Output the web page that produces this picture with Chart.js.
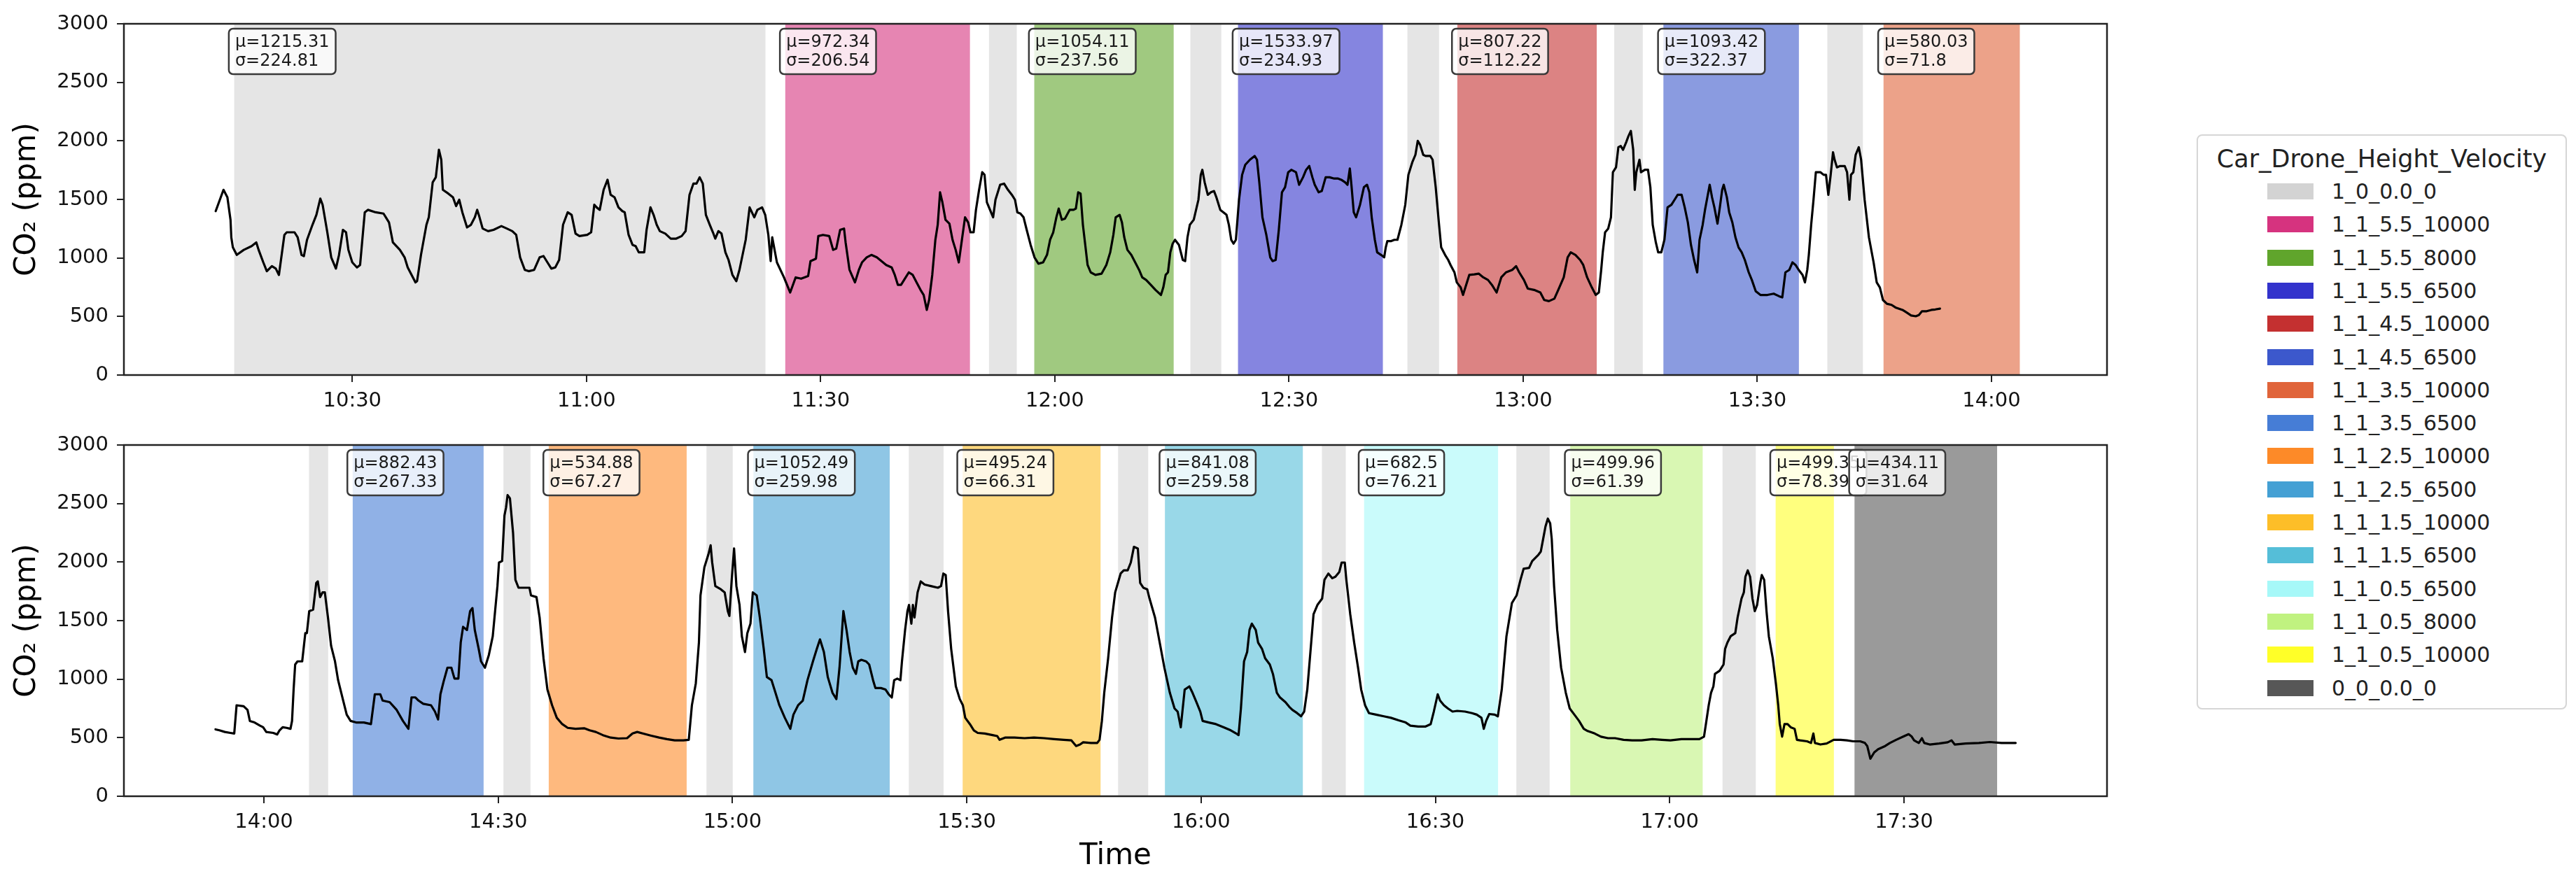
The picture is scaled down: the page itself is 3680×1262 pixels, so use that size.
<!DOCTYPE html>
<html>
<head>
<meta charset="utf-8">
<script src="https://cdn.jsdelivr.net/npm/chart.js@4.4.1/dist/chart.umd.min.js"></script>
<style>
  body { margin: 0; background: #fff; width: 3680px; height: 1262px; position: relative; overflow: hidden; font-family: 'DejaVu Sans', sans-serif; }
  canvas { position: absolute; left: 0; }
  #topPanel { top: 0; }
  #bottomPanel { top: 600px; }
  #legend { position: absolute; left: 3138px; top: 192px; width: 529px; height: 822px; box-sizing: border-box; border: 2px solid #d6d6d6; border-radius: 8px; color: #222; }
  #legend .ttl { position: absolute; left: 0; right: 0; top: 11px; height: 44px; line-height: 44px; text-align: center; font-size: 35px; }
  #legend .row { position: absolute; left: 0; height: 40px; line-height: 40px; font-size: 30px; }
  #legend .sw { position: absolute; left: 99px; top: 8px; width: 66px; height: 23px; }
  #legend .lb { position: absolute; left: 191px; top: 0; white-space: nowrap; }
</style>
</head>
<body>
<canvas id="topPanel" width="3100" height="600"></canvas>
<canvas id="bottomPanel" width="3100" height="662"></canvas>
<div id="legend"><div class="ttl">Car_Drone_Height_Velocity</div></div>
<script>
// legend entries (order as in the figure) and their colours
const conditions = ['1_0_0.0_0', '1_1_5.5_10000', '1_1_5.5_8000', '1_1_5.5_6500', '1_1_4.5_10000', '1_1_4.5_6500',
  '1_1_3.5_10000', '1_1_3.5_6500', '1_1_2.5_10000', '1_1_2.5_6500', '1_1_1.5_10000', '1_1_1.5_6500',
  '1_1_0.5_6500', '1_1_0.5_8000', '1_1_0.5_10000', '0_0_0.0_0'];
const conditionColors = ['#d3d3d3', '#d6337f', '#60a52c', '#3333cc', '#c43030', '#3c58cc',
  '#e0643a', '#467dd6', '#fd8a28', '#44a0d4', '#fdbe28', '#55bed8',
  '#a6f8f8', '#c0f280', '#ffff28', '#575757'];

const topTicks = ['10:30', '11:00', '11:30', '12:00', '12:30', '13:00', '13:30', '14:00'];
const bottomTicks = ['14:00', '14:30', '15:00', '15:30', '16:00', '16:30', '17:00', '17:30'];

// [start, end] in minutes of the day, condition, mean, std
const topSpans = [
  [614.9, 682.9, '1_0_0.0_0', 1215.31, 224.81],
  [685.5, 709.1, '1_1_5.5_10000', 972.34, 206.54],
  [711.6, 715.1, '1_0_0.0_0'],
  [717.4, 735.2, '1_1_5.5_8000', 1054.11, 237.56],
  [737.4, 741.3, '1_0_0.0_0'],
  [743.5, 762.0, '1_1_5.5_6500', 1533.97, 234.93],
  [765.2, 769.2, '1_0_0.0_0'],
  [771.6, 789.4, '1_1_4.5_10000', 807.22, 112.22],
  [791.7, 795.3, '1_0_0.0_0'],
  [798.0, 815.3, '1_1_4.5_6500', 1093.42, 322.37],
  [819.0, 823.5, '1_0_0.0_0'],
  [826.2, 843.6, '1_1_3.5_10000', 580.03, 71.8]
];
const bottomSpans = [
  [845.8, 848.2, '1_0_0.0_0'],
  [851.4, 868.1, '1_1_3.5_6500', 882.43, 267.33],
  [870.7, 874.1, '1_0_0.0_0'],
  [876.5, 894.1, '1_1_2.5_10000', 534.88, 67.27],
  [896.7, 900.0, '1_0_0.0_0'],
  [902.7, 920.1, '1_1_2.5_6500', 1052.49, 259.98],
  [922.6, 927.0, '1_0_0.0_0'],
  [929.5, 947.1, '1_1_1.5_10000', 495.24, 66.31],
  [949.4, 953.2, '1_0_0.0_0'],
  [955.4, 973.0, '1_1_1.5_6500', 841.08, 259.58],
  [975.5, 978.5, '1_0_0.0_0'],
  [980.9, 998.0, '1_1_0.5_6500', 682.5, 76.21],
  [1000.4, 1004.6, '1_0_0.0_0'],
  [1007.3, 1024.2, '1_1_0.5_8000', 499.96, 61.39],
  [1026.8, 1031.0, '1_0_0.0_0'],
  [1033.6, 1041.0, '1_1_0.5_10000', 499.35, 78.39],
  [1043.7, 1061.9, '0_0_0.0_0', 434.11, 31.64]
];

// CO2 readings: [minute of day, ppm]
const co2Morning = [
  [612.5,1400],[613.5,1582],[614.0,1518],[614.4,1325],[614.5,1176],[614.7,1090],[615.2,1026],[616.1,1069],[617.1,1101],
  [617.7,1133],[618.0,1069],[618.6,962],[619.05,887],[619.7,930],[620.2,909],[620.6,855],[621.3,1197],[621.6,1219],
  [622.6,1219],[623.0,1176],[623.5,1026],[623.8,1016],[624.2,1155],[624.9,1283],[625.4,1368],[625.9,1507],[626.2,1454],
  [626.8,1219],[627.3,1005],[627.9,909],[628.3,1026],[628.8,1240],[629.2,1219],[629.5,1069],[630.0,962],[630.6,919],
  [631.0,940],[631.6,1390],[632.0,1411],[633.0,1390],[634.0,1379],[634.3,1347],[634.7,1304],[635.2,1133],[636.1,1069],
  [636.7,1005],[637.1,919],[637.6,855],[638.1,791],[638.3,802],[638.8,1026],[639.5,1283],[639.8,1347],[640.3,1646],
  [640.7,1689],[641.1,1924],[641.4,1839],[641.6,1582],[642.3,1550],[642.9,1518],[643.3,1443],[643.7,1497],[644.1,1390],
  [644.7,1261],[645.2,1283],[645.7,1347],[646.0,1411],[646.3,1347],[646.7,1251],[647.4,1229],[648.1,1240],[649.1,1272],
  [649.8,1251],[650.5,1229],[651.0,1197],[651.5,1005],[652.1,898],[652.6,887],[653.3,898],[654.0,1005],[654.5,1016],
  [655.0,962],[655.5,909],[656.0,919],[656.5,983],[657.0,1283],[657.6,1390],[658.1,1368],[658.6,1208],[659.1,1187],
  [660.1,1197],[660.6,1219],[661.0,1454],[661.3,1432],[661.7,1411],[662.2,1582],[662.7,1668],[663.1,1539],[663.6,1518],
  [664.1,1432],[664.6,1400],[664.9,1390],[665.4,1197],[665.9,1112],[666.3,1101],[666.7,1048],[667.4,1048],[667.7,1240],
  [668.2,1432],[668.6,1368],[669.0,1283],[669.4,1229],[670.1,1208],[670.8,1165],[671.5,1165],[672.2,1187],[672.7,1229],
  [673.2,1539],[673.7,1635],[674.1,1635],[674.5,1689],[674.9,1635],[675.3,1368],[675.8,1283],[676.2,1219],[676.5,1165],
  [676.9,1229],[677.3,1208],[677.8,1048],[678.2,983],[678.7,855],[679.2,802],[679.6,898],[680.4,1155],[680.9,1432],
  [681.5,1347],[681.9,1411],[682.5,1432],[682.9,1368],[683.3,1197],[683.6,973],[683.8,1176],[684.4,962],[685.3,834],
  [686.1,705],[686.8,834],[687.5,823],[688.4,845],[688.7,973],[689.4,994],[689.7,1187],[690.3,1197],[691.1,1187],
  [691.6,1069],[692.0,1080],[692.5,1240],[693.0,1251],[693.2,1133],[693.7,898],[694.4,791],[694.9,898],[695.3,962],
  [695.9,1005],[696.5,1026],[697.2,1005],[697.8,973],[698.4,940],[699.1,919],[699.5,855],[699.9,770],[700.3,770],
  [700.9,834],[701.3,877],[701.8,855],[702.3,791],[702.8,727],[703.2,684],[703.6,556],[703.9,641],[704.3,855],
  [704.7,1155],[705.0,1283],[705.3,1561],[705.6,1475],[706.0,1326],[706.5,1293],[706.9,1155],[707.3,1069],[707.7,962],
  [708.1,1155],[708.5,1347],[708.9,1304],[709.2,1219],[709.6,1219],[709.9,1411],[710.3,1582],[710.7,1732],[711.0,1710],
  [711.3,1475],[711.7,1411],[712.1,1347],[712.4,1497],[713.0,1625],[713.5,1635],[714.0,1582],[714.5,1539],[714.9,1497],
  [715.2,1390],[715.6,1379],[716.0,1347],[716.4,1240],[716.9,1112],[717.4,1005],[717.9,951],[718.5,962],[719.0,1026],
  [719.4,1155],[719.8,1219],[720.2,1347],[720.5,1422],[720.9,1326],[721.3,1336],[721.9,1411],[722.4,1411],[722.7,1422],
  [723.0,1561],[723.3,1550],[723.6,1283],[723.9,1112],[724.2,940],[724.6,877],[725.2,855],[726.0,866],[726.6,940],
  [727.1,1048],[727.5,1197],[727.8,1347],[728.3,1368],[728.6,1304],[728.9,1176],[729.3,1069],[729.8,1026],[730.3,962],
  [730.8,898],[731.2,834],[731.7,812],[732.3,770],[732.9,727],[733.6,684],[733.9,748],[734.2,855],[734.5,877],
  [734.8,1048],[735.1,1122],[735.4,1155],[735.9,1112],[736.4,983],[736.7,973],[737.0,1176],[737.3,1283],[737.8,1326],
  [738.4,1497],[738.7,1710],[738.9,1753],[739.2,1646],[739.6,1539],[740.0,1561],[740.4,1571],[740.7,1518],[741.2,1411],
  [741.6,1390],[742.0,1368],[742.3,1283],[742.6,1155],[742.9,1122],[743.2,1155],[743.6,1497],[744.0,1710],[744.4,1796],
  [745.0,1839],[745.6,1871],[745.9,1839],[746.2,1646],[746.6,1347],[747.1,1197],[747.6,1005],[747.9,973],[748.3,983],
  [748.7,1240],[749.1,1561],[749.5,1604],[749.9,1732],[750.3,1753],[750.9,1732],[751.3,1625],[751.8,1689],[752.2,1753],
  [752.6,1785],[753.0,1689],[753.3,1625],[753.8,1561],[754.2,1571],[754.7,1689],[755.2,1689],[755.8,1678],[756.3,1678],
  [756.7,1668],[757.2,1646],[757.5,1625],[757.8,1764],[758.0,1625],[758.3,1390],[758.6,1347],[759.1,1454],[759.6,1604],
  [760.0,1625],[760.3,1561],[760.6,1347],[761.0,1155],[761.3,1048],[761.8,1026],[762.2,1005],[762.4,1090],[762.6,1144],
  [763.1,1144],[763.5,1155],[763.9,1155],[764.4,1283],[764.9,1454],[765.3,1710],[765.8,1817],[766.2,1881],[766.5,2000],
  [766.8,1967],[767.2,1881],[767.5,1871],[768.1,1871],[768.4,1839],[768.8,1604],[769.2,1304],[769.5,1090],[770.0,1026],
  [770.4,983],[770.7,940],[771.2,877],[771.5,791],[772.0,748],[772.3,684],[772.6,748],[773.1,855],[773.75,860],
  [774.3,866],[774.9,834],[775.5,812],[776.0,770],[776.6,705],[777.2,834],[777.8,877],[778.6,898],[779.1,930],
  [779.5,877],[780.1,812],[780.6,738],[781.4,727],[782.2,705],[782.7,641],[783.3,631],[784.0,652],[784.5,727],
  [785.2,834],[785.7,1005],[786.1,1048],[786.7,1026],[787.3,983],[787.7,940],[788.2,834],[788.8,748],[789.3,684],
  [789.7,705],[790.0,898],[790.2,1048],[790.5,1219],[790.9,1251],[791.25,1347],[791.5,1732],[791.9,1774],[792.2,1946],
  [792.5,1956],[792.8,1924],[793.2,1988],[793.5,2042],[793.8,2085],[794.1,1924],[794.3,1582],[794.5,1732],[794.9,1839],
  [795.1,1732],[795.6,1753],[796.0,1753],[796.3,1604],[796.6,1283],[797.0,1133],[797.3,1048],[797.7,1048],[798.1,1155],
  [798.5,1432],[799.0,1454],[799.4,1497],[799.8,1539],[800.3,1539],[800.7,1432],[801.1,1304],[801.5,1112],[801.9,983],
  [802.3,877],[802.6,1155],[803.0,1283],[803.3,1411],[803.6,1518],[803.9,1625],[804.2,1518],[804.5,1432],[804.9,1293],
  [805.2,1432],[805.5,1582],[805.7,1625],[806.1,1518],[806.4,1390],[806.8,1304],[807.2,1176],[807.6,1090],[808.0,1048],
  [808.4,983],[808.9,877],[809.3,812],[809.8,716],[810.4,684],[811.3,684],[812.1,695],[812.8,673],[813.2,663],
  [813.6,877],[814.1,898],[814.5,962],[814.9,940],[815.3,898],[815.8,855],[816.1,791],[816.4,898],[816.6,1026],
  [816.9,1283],[817.2,1497],[817.5,1732],[818.1,1732],[818.5,1710],[818.8,1710],[819.1,1539],[819.4,1710],[819.7,1903],
  [819.9,1839],[820.2,1774],[820.6,1785],[821.2,1785],[821.5,1732],[821.8,1497],[822.0,1710],[822.3,1732],[822.6,1881],
  [823.0,1946],[823.3,1839],[823.75,1497],[824.3,1176],[824.9,962],[825.3,791],[825.7,748],[826.1,641],[826.6,609],
  [827.2,599],[827.7,577],[828.6,556],[829.1,535],[829.7,509],[830.3,502],[830.7,513],[831.1,545],[831.7,545],
  [832.3,556],[832.8,560],[833.4,567]
];
const co2Afternoon = [
  [833.8,571],[834.3,563],[835.0,549],[835.7,541],[836.2,536],[836.5,777],[837.4,769],[837.9,737],[838.2,643],
  [838.8,630],[839.5,603],[839.9,589],[840.3,549],[841.2,541],[841.7,528],[842.0,563],[842.4,589],[842.9,584],
  [843.4,576],[843.6,643],[843.8,911],[844.0,1125],[844.3,1152],[844.9,1152],[845.3,1393],[845.5,1393],[845.8,1581],
  [846.3,1594],[846.7,1822],[846.9,1835],[847.2,1701],[847.5,1741],[847.8,1741],[848.2,1527],[848.6,1286],[849.1,1152],
  [849.5,991],[850.1,830],[850.6,697],[851.1,643],[851.8,630],[852.8,630],[853.7,616],[854.2,871],[854.9,871],
  [855.2,817],[856.1,804],[857.0,737],[857.8,643],[858.5,576],[858.9,844],[859.4,844],[859.8,817],[860.4,790],
  [861.4,777],[861.9,723],[862.3,656],[862.6,871],[863.0,978],[863.5,1098],[864.0,1098],[864.4,1005],[864.9,1005],
  [865.2,1313],[865.5,1447],[866.0,1420],[866.4,1581],[866.7,1607],[867.0,1420],[867.5,1259],[867.8,1152],[868.3,1098],
  [868.8,1206],[869.3,1366],[869.9,1795],[870.1,1996],[870.5,2009],[870.8,2398],[871.0,2465],[871.2,2572],[871.5,2545],
  [871.9,2250],[872.2,1849],[872.6,1781],[873.3,1781],[874.0,1781],[874.2,1715],[874.9,1701],[875.3,1527],[875.8,1179],
  [876.3,911],[876.9,777],[877.5,670],[878.2,616],[878.9,584],[879.9,576],[881.0,581],[881.7,563],[882.5,549],
  [883.4,522],[884.4,501],[885.4,493],[886.5,496],[887.2,536],[887.8,549],[888.5,536],[889.6,517],[890.6,501],
  [891.6,488],[892.6,477],[893.7,477],[894.4,482],[894.8,777],[895.3,964],[895.7,1313],[895.9,1715],[896.4,1956],
  [896.9,2063],[897.2,2143],[897.4,1996],[897.8,1795],[898.5,1768],[899.0,1741],[899.4,1581],[899.6,1540],[899.9,1849],
  [900.2,2116],[900.5,1795],[900.9,1634],[901.2,1366],[901.6,1232],[901.9,1393],[902.3,1474],[902.6,1741],[903.1,1715],
  [903.5,1527],[904.0,1259],[904.4,1018],[905.0,991],[905.5,884],[906.0,777],[906.7,670],[907.4,576],[907.8,697],
  [908.4,777],[909.0,817],[909.6,991],[910.3,1152],[910.8,1259],[911.2,1340],[911.7,1232],[912.2,1018],[912.8,884],
  [913.3,830],[913.7,1098],[914.2,1581],[914.6,1420],[915.0,1232],[915.4,1098],[915.8,1045],[916.1,1152],[916.5,1165],
  [917.1,1152],[917.5,1125],[918.0,991],[918.3,924],[919.0,924],[919.6,911],[920.0,871],[920.4,844],[920.7,991],
  [921.1,1005],[921.5,991],[921.7,1152],[922.1,1420],[922.4,1581],[922.6,1634],[922.9,1474],[923.1,1634],[923.3,1527],
  [923.7,1741],[924.1,1835],[924.6,1808],[925.4,1795],[926.3,1781],[926.7,1795],[927.0,1902],[927.3,1889],[927.6,1581],
  [928.0,1259],[928.6,938],[929.1,830],[929.5,777],[929.8,670],[930.4,616],[930.9,563],[931.4,541],[932.3,536],
  [933.3,522],[933.9,514],[934.2,482],[934.9,501],[936.1,501],[937.4,496],[938.6,501],[939.9,496],[941.2,488],
  [942.4,482],[943.4,477],[944.0,429],[944.5,442],[944.9,461],[945.9,455],[946.7,455],[947.0,482],[947.3,643],
  [947.6,884],[948.1,1179],[948.6,1527],[949.0,1741],[949.7,1902],[950.1,1929],[950.6,1929],[951.0,1996],[951.4,2130],
  [951.9,2116],[952.2,1822],[952.6,1781],[953.1,1768],[953.4,1688],[954.1,1527],[954.7,1313],[955.3,1098],[956.0,884],
  [956.6,750],[957.0,723],[957.4,589],[957.9,911],[958.5,938],[958.9,884],[959.4,804],[959.9,723],[960.2,643],
  [961.0,630],[961.9,616],[962.9,589],[963.8,563],[964.5,536],[964.8,522],[965.1,750],[965.5,1152],[965.9,1232],
  [966.2,1420],[966.5,1474],[967.0,1420],[967.3,1313],[967.8,1259],[968.2,1179],[968.8,1125],[969.2,1045],[969.7,884],
  [970.1,844],[970.8,804],[971.3,763],[971.7,737],[972.3,710],[972.8,683],[973.2,723],[973.6,911],[974.0,1232],
  [974.4,1554],[974.9,1634],[975.5,1688],[975.8,1849],[976.3,1902],[976.8,1862],[977.2,1875],[977.7,1916],[978.0,1996],
  [978.4,1996],[978.6,1849],[979.1,1554],[979.6,1313],[980.1,1098],[980.5,911],[981.0,777],[981.5,710],[982.4,697],
  [983.4,683],[984.3,670],[985.3,648],[986.2,630],[986.8,603],[987.8,595],[988.7,595],[989.4,616],[989.8,723],
  [990.3,871],[990.6,817],[991.1,777],[991.6,750],[992.2,723],[992.8,729],[993.8,723],[994.7,710],[995.3,697],
  [995.9,670],[996.2,576],[996.5,643],[996.9,702],[997.6,697],[998.0,683],[998.5,911],[999.1,1366],[999.8,1650],
  [1000.4,1715],[1000.9,1849],[1001.3,1943],[1002.0,1950],[1002.4,2009],[1002.8,2036],[1003.2,2063],[1003.5,2090],
  [1003.8,2197],[1004.1,2304],[1004.4,2371],[1004.7,2331],[1004.9,2197],[1005.2,1795],[1005.6,1420],[1006.1,1098],
  [1006.7,884],[1007.2,750],[1007.8,697],[1008.4,643],[1009.0,576],[1009.5,557],[1010.4,536],[1011.2,509],[1012.1,496],
  [1013.0,496],[1014.1,482],[1015.2,477],[1016.4,477],[1017.8,488],[1019.0,482],[1020.1,477],[1021.5,488],[1023.0,488],
  [1023.8,488],[1024.4,509],[1024.7,643],[1025.0,777],[1025.3,884],[1025.6,938],[1025.8,1045],[1026.4,1072],[1026.9,1125],
  [1027.1,1259],[1027.4,1313],[1027.8,1366],[1028.4,1393],[1028.7,1527],[1029.2,1688],[1029.5,1741],[1029.7,1875],
  [1030.0,1929],[1030.3,1875],[1030.6,1688],[1030.9,1581],[1031.2,1634],[1031.6,1822],[1031.8,1889],[1032.1,1849],
  [1032.4,1581],[1032.7,1366],[1033.2,1179],[1033.6,964],[1033.9,777],[1034.1,616],[1034.4,509],[1034.7,616],[1035.1,616],
  [1035.5,589],[1036.0,576],[1036.3,482],[1036.7,477],[1037.6,469],[1038.1,455],[1038.4,536],[1038.6,455],[1039.3,442],
  [1040.1,450],[1041.0,482],[1041.9,482],[1042.7,477],[1043.5,469],[1044.4,469],[1045.0,455],[1045.3,429],[1045.7,321],
  [1046.2,375],[1046.7,402],[1047.6,429],[1048.2,455],[1049.0,482],[1049.9,509],[1050.6,530],[1051.0,509],[1051.3,477],
  [1051.9,455],[1052.3,496],[1052.6,455],[1053.3,442],[1054.5,450],[1055.6,461],[1056.1,477],[1056.5,442],[1057.9,450],
  [1059.6,455],[1061.0,463],[1062.5,455],[1064.3,455]
];

Chart.defaults.font.family = "'DejaVu Sans', sans-serif";
Chart.defaults.color = '#111';

const minutesOf = s => { const [h, m] = s.split(':').map(Number); return h * 60 + m; };

function colorOf(cond, alpha) {
  const hex = conditionColors[conditions.indexOf(cond)];
  const r = parseInt(hex.slice(1, 3), 16), g = parseInt(hex.slice(3, 5), 16), b = parseInt(hex.slice(5, 7), 16);
  return 'rgba(' + r + ',' + g + ',' + b + ',' + alpha + ')';
}

// mean/std boxes at the top of each span + the axes frame
function statBoxes(spans) {
  return {
    id: 'statBoxes',
    afterDatasetsDraw(chart) {
      const {ctx, chartArea} = chart;
      const x = chart.scales.x;
      ctx.save();
      ctx.font = "24px 'DejaVu Sans'";
      spans.forEach(s => {
        if (s[3] === undefined) return;
        const lines = ['\u03bc=' + s[3], '\u03c3=' + s[4]];
        const w = Math.max(...lines.map(l => ctx.measureText(l).width)) + 18;
        const left = x.getPixelForValue(s[0]) - 8;
        const top = chartArea.top + 7;
        ctx.beginPath();
        ctx.roundRect(left, top, w, 65, 6);
        ctx.fillStyle = 'rgba(255,255,255,0.8)';
        ctx.fill();
        ctx.lineWidth = 2.5;
        ctx.strokeStyle = '#3a3a3a';
        ctx.stroke();
        ctx.fillStyle = '#1a1a1a';
        ctx.textBaseline = 'middle';
        lines.forEach((l, i) => ctx.fillText(l, left + 9, top + 20 + 27 * i));
      });
      ctx.lineWidth = 2.5;
      ctx.strokeStyle = '#222';
      ctx.strokeRect(chartArea.left, chartArea.top, chartArea.width, chartArea.height);
      ctx.restore();
    }
  };
}

function drawPanel(id, series, spans, tickLabels, xMin, xMax, padTop, axisHeight, withTitle) {
  const tickValues = tickLabels.map(minutesOf);
  return new Chart(document.getElementById(id), {
    type: 'line',
    data: {
      datasets: [{
        type: 'line',
        data: series.map(p => ({x: p[0], y: p[1]})),
        borderColor: '#000',
        borderWidth: 3.2,
        borderJoinStyle: 'round',
        borderCapStyle: 'round',
        pointRadius: 0,
        tension: 0,
        xAxisID: 'x',
        yAxisID: 'y',
        order: 0
      }, {
        type: 'bar',
        indexAxis: 'y',
        data: spans.map(s => ({x: [s[0], s[1]], y: 'band'})),
        backgroundColor: spans.map(s => colorOf(s[2], 0.6)),
        borderWidth: 0,
        barPercentage: 1,
        categoryPercentage: 1,
        xAxisID: 'x',
        yAxisID: 'band',
        order: 1
      }]
    },
    options: {
      responsive: false,
      animation: false,
      events: [],
      layout: {padding: {top: padTop, right: 90, left: 0, bottom: 0}},
      plugins: {legend: {display: false}, tooltip: {enabled: false}},
      scales: {
        x: {
          type: 'linear',
          min: xMin,
          max: xMax,
          afterBuildTicks: s => { s.ticks = tickValues.map(v => ({value: v})); },
          afterFit: s => { s.height = axisHeight; },
          ticks: {
            autoSkip: false,
            maxRotation: 0,
            padding: 10,
            font: {size: 29},
            callback: v => tickLabels[tickValues.indexOf(v)]
          },
          grid: {drawOnChartArea: false, drawTicks: true, tickLength: 10, lineWidth: 2, color: '#222'},
          border: {display: false},
          title: {display: withTitle, text: 'Time', font: {size: 42}, color: '#000', padding: {top: 0, bottom: 13}}
        },
        y: {
          min: 0,
          max: 3000,
          afterFit: s => { s.width = 177; },
          ticks: {stepSize: 500, padding: 12, font: {size: 29}, callback: v => String(v)},
          grid: {drawOnChartArea: false, drawTicks: true, tickLength: 10, lineWidth: 2, color: '#222'},
          border: {display: false},
          title: {display: true, text: 'CO\u2082 (ppm)', font: {size: 42}, color: '#000', padding: {top: 14, bottom: 0}}
        },
        band: {
          axis: 'y',
          type: 'category',
          labels: ['band'],
          offset: true,
          display: false
        }
      }
    },
    plugins: [statBoxes(spans)]
  });
}

drawPanel('topPanel', co2Morning, topSpans, topTicks, 600.74, 854.8, 34, 64, false);
drawPanel('bottomPanel', co2Afternoon, bottomSpans, bottomTicks, 822.07, 1076.0, 36, 124, true);

// legend
const legend = document.getElementById('legend');
conditions.forEach((c, i) => {
  const row = document.createElement('div');
  row.className = 'row';
  row.style.top = (80 + 47.3 * i - 20) + 'px';
  row.style.width = '100%';
  row.innerHTML = '<span class="sw" style="background:' + conditionColors[i] + '"></span><span class="lb">' + c + '</span>';
  legend.appendChild(row);
});
</script>
</body>
</html>
